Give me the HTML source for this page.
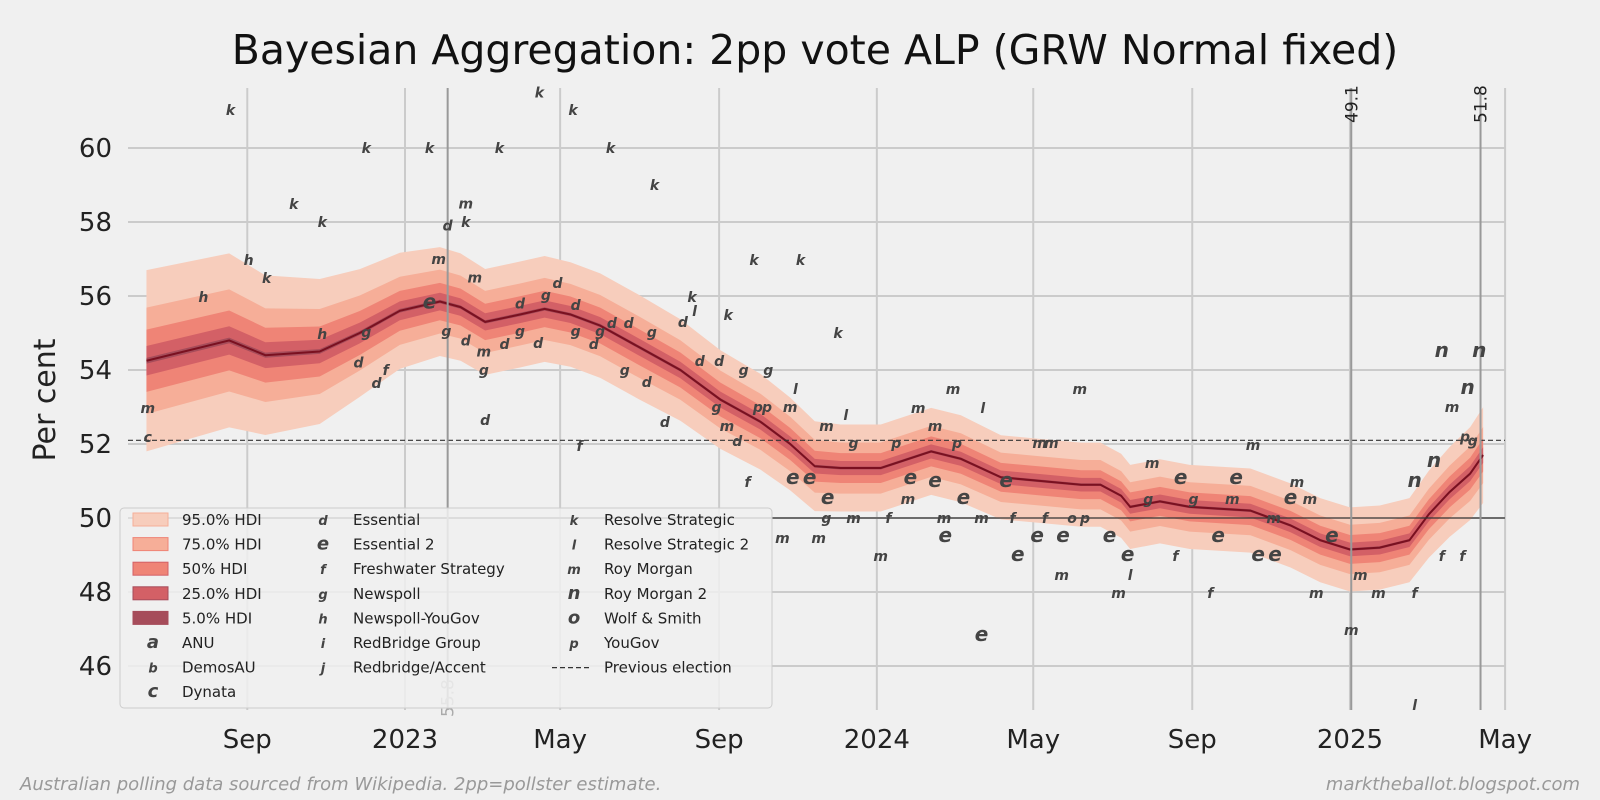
<!DOCTYPE html>
<html><head><meta charset="utf-8"><style>
body{margin:0;background:#f0f0f0;}
svg{display:block;font-family:"DejaVu Sans","Liberation Sans",sans-serif;}
.pt{font-style:italic;font-weight:bold;fill:#444;}
</style></head><body>
<svg id="c" width="1600" height="800" viewBox="0 0 1600 800" xmlns="http://www.w3.org/2000/svg">
<rect width="1600" height="800" fill="#f0f0f0"/>
<text x="815" y="64" text-anchor="middle" font-size="41" fill="#111">Bayesian Aggregation: 2pp vote ALP (GRW Normal fixed)</text>
<text transform="translate(55,400) rotate(-90)" text-anchor="middle" font-size="30" fill="#222">Per cent</text>
<g id="grid"></g><g id="bands"></g><g id="refs"></g><g id="pts"></g><g id="ticks"></g>
<text x="20" y="790" font-size="18" font-style="italic" fill="#999">Australian polling data sourced from Wikipedia. 2pp=pollster estimate.</text>
<text x="1580" y="790" text-anchor="end" font-size="18" font-style="italic" fill="#999">marktheballot.blogspot.com</text>
<g id="legend"></g>
</svg>
<script>
// days since 2023-01-01
const medDays=[-200,-136,-108,-66,-35,-4,27,43,62,89,108,128,151,182,213,244,275,298,317,337,368,407,430,461,492,523,538,554,561,584,607,654,685,708,731,754,777,792,808,824,834];
const medVals=[54.25,54.8,54.4,54.5,55.0,55.6,55.85,55.7,55.3,55.5,55.65,55.5,55.2,54.6,54.0,53.2,52.6,52.0,51.4,51.35,51.35,51.8,51.6,51.1,51.0,50.9,50.9,50.6,50.3,50.45,50.3,50.2,49.8,49.4,49.15,49.2,49.4,50.1,50.7,51.2,51.7];
const sigmas=[1.25,1.2,1.1,1.0,0.88,0.8,0.75,0.74,0.73,0.73,0.73,0.72,0.72,0.72,0.7,0.68,0.66,0.64,0.62,0.6,0.6,0.6,0.6,0.58,0.58,0.58,0.58,0.58,0.58,0.58,0.58,0.58,0.58,0.58,0.58,0.58,0.58,0.6,0.62,0.64,0.66];
const ptDays=[-135,-199,-199,-156,-121,-107,-86,-64,-64,-30,-36,-15,-22,-30,19,33,47,47,26,19,32,54,47,61,61,62,73,77,89,89,103,109,118,104,130,132,132,135,159,146,151,160,173,191,215,222,224,193,170,187,201,228,243,262,281,250,270,306,335,302,298,241,249,257,265,273,280,326,341,347,300,313,327,292,320,326,347,374,368,397,424,447,410,380,427,391,389,410,417,432,446,470,465,418,474,446,522,491,500,508,489,509,495,526,516,545,559,561,552,578,600,596,623,656,643,629,660,673,685,690,705,732,717,739,753,781,781,796,802,831,781,822,810,802,818,575,610,640,700,672,820,826];
const ptVals=[61.03,52.97,52.19,55.97,56.97,56.49,58.49,58.0,54.97,55.03,54.2,54.0,53.65,60,60,57.9,58.0,58.5,57.0,55.8,55.05,56.5,54.8,54.5,54.0,52.65,60,54.7,55.05,55.8,54.73,56.03,56.35,61.5,61.03,55.76,55.05,51.95,60,54.7,55.05,55.27,55.27,55.03,55.3,55.97,55.6,59.0,54.0,53.68,52.6,54.24,54.24,54.0,54.0,55.49,56.97,56.97,55.0,53.49,53.0,53.0,52.49,52.08,50.97,53.0,53.0,52.49,52.78,52.03,51.05,51.05,50.51,49.46,49.46,50,50,50,48.97,52.97,53.49,52.97,52.49,52.03,52.03,51.05,50.51,50.97,50,50.51,50,50,50.97,49.49,48.97,46.81,53.49,52.03,52.03,48.46,49.49,49.49,50,50,50,49.49,48.97,48.46,47.97,51.49,51.05,48.97,47.97,51.97,51.05,49.49,48.97,48.97,50.51,50.97,47.97,46.97,49.49,48.46,47.97,47.97,44.95,51.51,54.49,54.49,50.97,53.49,53.0,48.97,48.97,50.51,50.51,50.51,50.51,50.0,52.2,52.1];
const ptLetters=["k","m","c","h","h","k","k","k","h","g","d","f","d","k","k","d","k","m","m","e","g","m","d","m","g","d","k","d","g","d","d","g","d","k","k","d","g","f","k","d","g","d","d","g","d","k","l","k","g","d","d","d","d","g","g","k","k","k","k","l","m","g","m","d","f","p","p","m","l","g","e","e","e","m","m","g","m","f","m","m","m","l","m","p","p","e","m","e","m","e","m","f","e","e","e","e","m","m","m","m","e","e","f","p","o","e","e","l","m","m","e","f","f","m","e","e","e","e","e","m","m","m","e","m","m","f","l","n","n","n","n","n","m","f","f","g","g","m","m","m","p","g"];
const yTicks=[46,48,50,52,54,56,58,60];
const xTickDays=[-122,0,120,243,365,486,609,731,851];
const xTickLabels=["Sep","2023","May","Sep","2024","May","Sep","2025","May"];
const levels=["95.0% HDI","75.0% HDI","50% HDI","25.0% HDI","5.0% HDI"];
const zs=[1.96,1.15,0.674,0.319,0.063];
const bandColors=["#f7cdbc","#f6ae98","#ef8476","#d36066","#a64c5a"];
const vlines=[{d:33,v:"55.8",top:false},{d:732,v:"49.1",top:true},{d:832,v:"51.8",top:true}];
const prevElection=52.1;

const NS="http://www.w3.org/2000/svg";
const X0=128,X1=1505,Y0=88,Y1=710;
const X=d=>405+d*1.2927, Y=v=>518-(v-50)*37;
function mk(t,a,p){const e=document.createElementNS(NS,t);for(const k in a)e.setAttribute(k,a[k]);p.appendChild(e);return e;}
const G=id=>document.getElementById(id);
yTicks.forEach((v,i)=>{
 const l=mk('line',{x1:X0,x2:X1,y1:Y(v),y2:Y(v),stroke:'#cbcbcb','stroke-width':2},G('grid'));
 
 
 const t=mk('text',{x:112,y:Y(v)+9,'text-anchor':'end','font-size':26,fill:'#222'},G('ticks'));t.textContent=v;
 
 
});
xTickDays.forEach((d,i)=>{
 const l=mk('line',{x1:X(d),x2:X(d),y1:Y0,y2:Y1,stroke:'#cbcbcb','stroke-width':2},G('grid'));
 
 
 const t=mk('text',{x:X(d),y:748,'text-anchor':'middle','font-size':26,fill:'#222'},G('ticks'));t.textContent=xTickLabels[i];
 
 
});
zs.forEach((z,k)=>{
 let up=medDays.map((d,i)=>X(d)+','+Y(medVals[i]+z*sigmas[i]));
 let dn=medDays.map((d,i)=>X(d)+','+Y(medVals[i]-z*sigmas[i])).reverse();
 const p=mk('polygon',{points:up.concat(dn).join(' '),fill:bandColors[k]},G('bands'));
 
 
});
const ml=mk('polyline',{points:medDays.map((d,i)=>X(d)+','+Y(medVals[i])).join(' '),fill:'none',stroke:'#7a1020','stroke-width':2},G('bands'));


const h50=mk('line',{x1:X0,x2:X1,y1:Y(50),y2:Y(50),stroke:'#333','stroke-width':1.2},G('refs'));


const pe=mk('line',{x1:X0,x2:X1,y1:Y(prevElection),y2:Y(prevElection),stroke:'#333','stroke-width':1.2,'stroke-dasharray':'5,3'},G('refs'));


vlines.forEach(o=>{
 const l=mk('line',{x1:X(o.d),x2:X(o.d),y1:Y0,y2:Y1,stroke:'#999','stroke-width':2},G('refs'));
 
 
 const y=o.top?123:717;
 const t=mk('text',{transform:`translate(${X(o.d)+6},${y}) rotate(-90)`,'font-size':17,fill:o.top?'#222':'#aaa'},G('refs'));t.textContent=o.v;
 
 
});
ptDays.forEach((d,i)=>{
 const L=ptLetters[i];const big=(L==='e'||L==='n');
 const t=mk('text',{x:X(d),y:Y(ptVals[i])+5,'text-anchor':'middle','font-size':big?20:14,class:'pt'},G('pts'));t.textContent=L;
 
 
});
const lg=G('legend');
const box=mk('rect',{x:120,y:508,width:652,height:200,rx:4,fill:'#f0f0f0','fill-opacity':0.85,stroke:'#ccc'},lg);


const rows=[520,544.6,569.2,593.8,618.4,643,667.6,692.2];
const col1=levels.map((l,i)=>({sw:i,txt:l})).concat([{m:'a',txt:'ANU'},{m:'b',txt:'DemosAU'},{m:'c',txt:'Dynata'}]);
const col2=[['d','Essential'],['e','Essential 2'],['f','Freshwater Strategy'],['g','Newspoll'],['h','Newspoll-YouGov'],['i','RedBridge Group'],['j','Redbridge/Accent']];
const col3=[['k','Resolve Strategic'],['l','Resolve Strategic 2'],['m','Roy Morgan'],['n','Roy Morgan 2'],['o','Wolf & Smith'],['p','YouGov'],['--','Previous election']];
function entry(cx,tx,y,m,txt,sw){
 const g=mk('g',{},lg);
 
 
 if(sw!==undefined){mk('rect',{x:cx-20,y:y-7,width:35,height:13,fill:bandColors[sw],stroke:bandColors[Math.min(sw+1,4)]},g);}
 else if(m==='--'){mk('line',{x1:cx-22,x2:cx+18,y1:y,y2:y,stroke:'#333','stroke-width':1.2,'stroke-dasharray':'5,3'},g);}
 else{const big=(m==='e'||m==='n'||m==='a'||m==='c'||m==='o');const t=mk('text',{x:cx,y:y+5,'text-anchor':'middle','font-size':big?18:13,class:'pt'},g);t.textContent=m;}
 const t=mk('text',{x:tx,y:y+5,'font-size':15,fill:'#222'},g);t.textContent=txt;
}
col1.forEach((e,i)=>entry(153,182,rows[i],e.m,e.txt,e.sw));
col2.forEach((e,i)=>entry(323,353,rows[i],e[0],e[1]));
col3.forEach((e,i)=>entry(574,604,rows[i],e[0],e[1]));
</script>
</body></html>
